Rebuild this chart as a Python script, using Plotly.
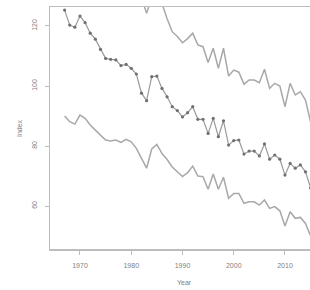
import plotly.graph_objects as go

years = list(range(1967, 2016))

index_mid = [125.3, 120.3, 119.6, 123.3, 121.1, 117.6, 115.6, 112.2, 109.2, 108.9,
             108.7, 106.8, 107.2, 105.9, 104.0, 97.6, 95.1, 103.1, 103.3, 99.2,
             96.4, 93.1, 91.8, 89.7, 91.1, 93.1, 88.9, 88.9, 84.2, 89.2,
             83.1, 88.4, 80.3, 81.8, 82.0, 77.3, 78.3, 78.3, 76.7, 80.7,
             75.6, 77.0, 75.6, 70.3, 74.2, 72.6, 73.7, 71.4, 66.0]

index_upper = [163.0, 157.0, 156.0, 160.0, 157.0, 152.0, 149.0, 145.0, 141.0, 140.5,
               140.0, 138.0, 138.5, 137.0, 135.0, 129.4, 124.2, 129.5, 130.0, 127.5,
               122.4, 118.1, 116.5, 114.4, 115.8, 117.6, 113.7, 113.1, 107.8, 112.6,
               105.9, 112.6, 103.3, 105.3, 104.6, 100.6, 102.0, 102.0, 101.1, 105.6,
               99.2, 100.9, 100.0, 93.1, 100.9, 97.0, 98.1, 95.3, 88.0]

index_lower = [90.0, 88.1, 87.3, 90.3, 89.2, 87.0, 85.3, 83.7, 82.0, 81.7,
               82.0, 81.2, 82.2, 81.4, 79.2, 75.9, 72.6, 79.0, 80.5, 77.5,
               75.5, 73.0, 71.5, 69.8, 71.1, 73.3, 70.0, 69.8, 65.6, 70.7,
               65.6, 69.6, 62.6, 64.2, 64.2, 60.9, 61.4, 61.4, 60.3, 62.0,
               59.2, 59.8, 58.4, 53.3, 58.1, 55.9, 56.2, 54.2, 50.0]

x_ticks = [1970, 1980, 1990, 2000, 2010]
x_tick_labels = ["1970", "1980", "1990", "2000", "2010"]
y_ticks = [60, 80, 100, 120]
y_tick_labels = ["60", "80", "100", "120"]

line_grey = "#a8a8a8"
axis_grey = "#bdbdbd"
text_grey = "#808080"

fig = go.Figure()
fig.add_trace(go.Scatter(x=years, y=index_upper, mode="lines",
                         line=dict(color=line_grey, width=1.5)))
fig.add_trace(go.Scatter(x=years, y=index_lower, mode="lines",
                         line=dict(color=line_grey, width=1.5)))
fig.add_trace(go.Scatter(x=years, y=index_mid, mode="lines+markers",
                         line=dict(color="#9a9a9a", width=1.2),
                         marker=dict(color="#707070", size=3.2)))

fig.update_layout(
    width=310, height=290,
    margin=dict(l=50, r=0, t=7, b=41),
    plot_bgcolor="white", paper_bgcolor="white",
    showlegend=False,
    font=dict(family="Liberation Sans, Arial, sans-serif", size=7, color=text_grey),
    xaxis=dict(range=[1964.15, 2014.88], tickvals=x_ticks, ticktext=x_tick_labels,
               ticks="outside", ticklen=4, tickcolor=axis_grey, tickwidth=1,
               showline=True, linecolor=axis_grey, linewidth=1.5, mirror=True,
               showgrid=False, zeroline=False, ticklabelstandoff=5),
    yaxis=dict(range=[45.67, 126.33], tickvals=y_ticks, ticktext=y_tick_labels,
               tickangle=-90,
               ticks="outside", ticklen=4, tickcolor=axis_grey, tickwidth=1,
               showline=True, linecolor=axis_grey, linewidth=1.5, mirror=False,
               showgrid=False, zeroline=False, ticklabelstandoff=5),
    annotations=[
        dict(text="Year", xref="paper", yref="paper", x=0.519, y=0, yshift=-33,
             showarrow=False, xanchor="center", yanchor="middle",
             font=dict(size=7, color=text_grey)),
        dict(text="Index", xref="paper", yref="paper", x=0, y=0.5, xshift=-31,
             showarrow=False, xanchor="center", yanchor="middle", textangle=-90,
             font=dict(size=7, color=text_grey)),
    ],
)

fig.write_html("out.html",
               config={"displayModeBar": False, "staticPlot": True},
               post_script="document.body.style.margin='0';document.body.style.overflow='hidden';")
